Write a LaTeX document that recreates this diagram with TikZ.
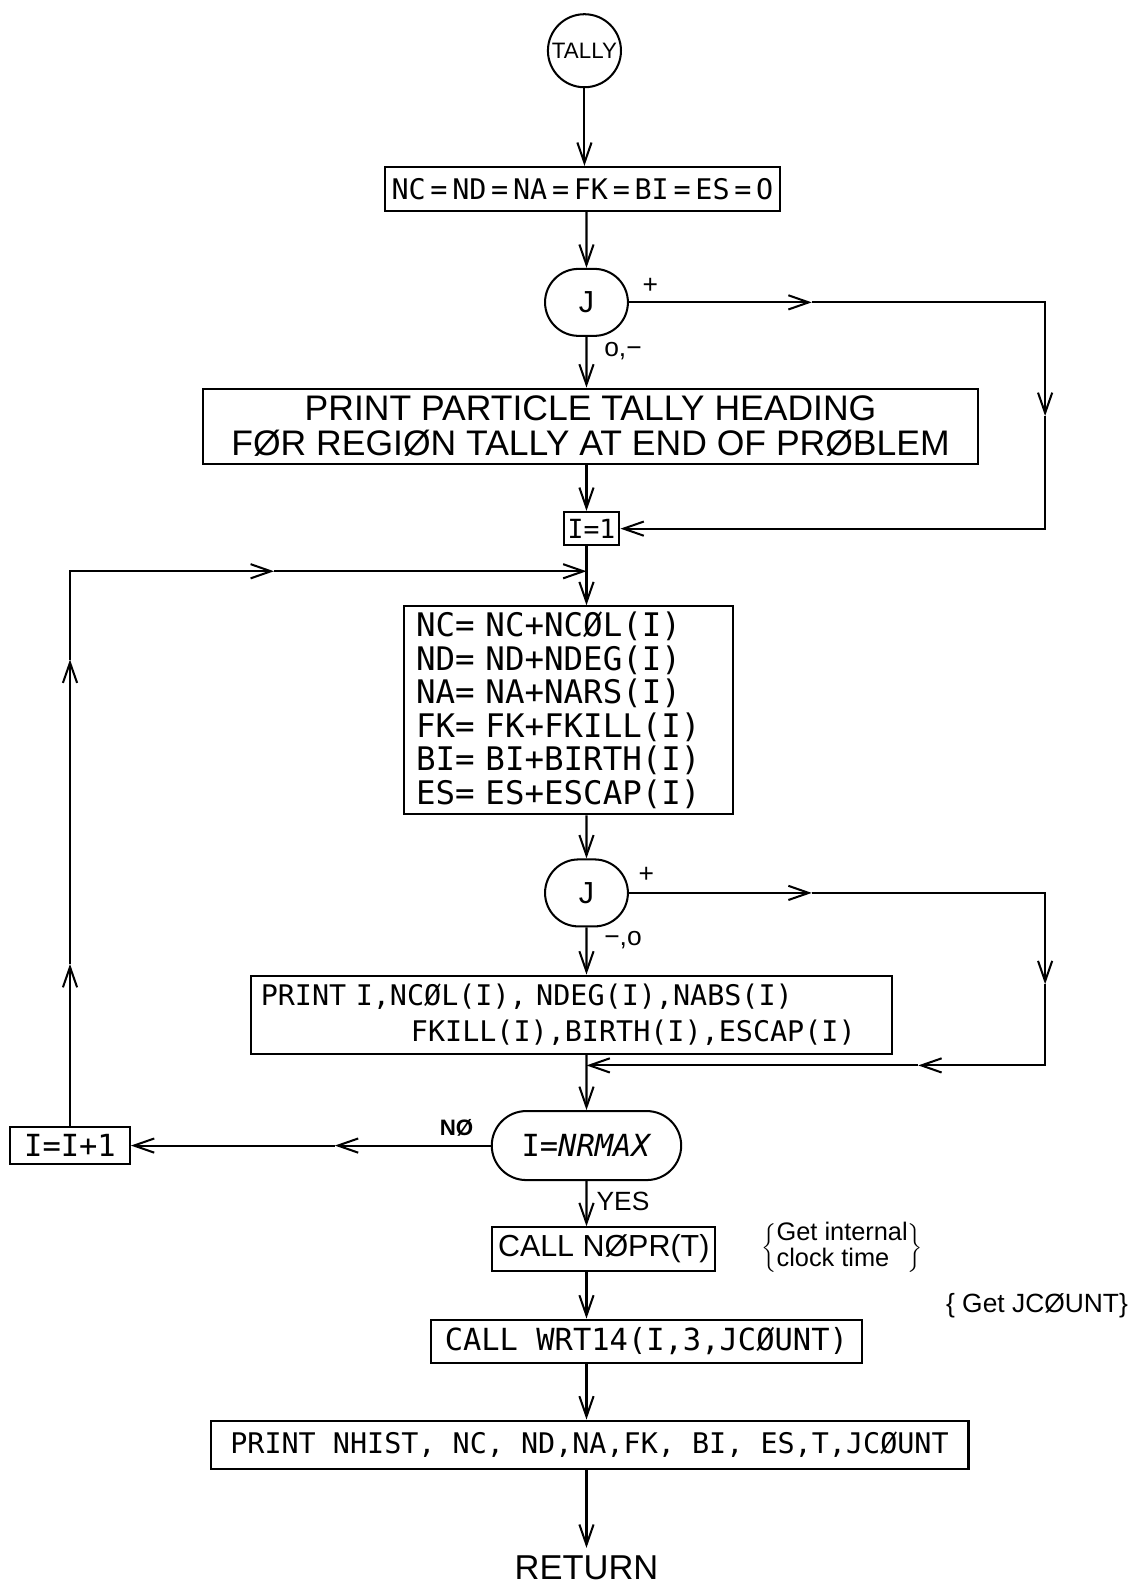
\documentclass[tikz,border=0pt]{standalone}
\usepackage{fontspec}
\setmainfont{Liberation Sans}
\newfontfamily\leroy{DejaVu Sans Mono}
\usetikzlibrary{arrows.meta, positioning, shapes.geometric, shapes.misc, calc}

\begin{document}
\begin{tikzpicture}[x=0.5pt, y=-0.5pt, line width=1pt,
    flow/.style={-{Straight Barb[length=10pt,width=7pt]}},
    box/.style={draw, rectangle, inner sep=0pt},
    term/.style={draw, rounded rectangle, minimum width=47.5pt, minimum height=33pt, font=\fontsize{15}{18}\selectfont},
    lbl/.style={font=\fontsize{13}{15}\selectfont}]
        \useasboundingbox (0,0) rectangle (1118,1568);

        % Đầu chương trình và khởi tạo
        \node[draw, circle, minimum size=36pt, inner sep=0pt, font=\fontsize{11}{13}\selectfont] (tally) at (576,50) {TALLY};
        \node[box, minimum width=195pt, minimum height=21.5pt, font=\leroy\fontsize{14}{16}\selectfont] (init) at (574,186) {NC\,=\,ND\,=\,NA\,=\,FK\,=\,BI\,=\,ES\,=\,O};
        \node[term] (jone) at (578,298) {J};
        \node[box, minimum width=382pt, minimum height=37pt, align=center, font=\fontsize{17.5}{17}\selectfont] (head) at (582,420) {PRINT PARTICLE TALLY HEADING\\FØR REGIØN TALLY AT END OF PRØBLEM};
        \node[box, inner xsep=2pt, inner ysep=3.5pt, font=\leroy\fontsize{13}{15}\selectfont] (ione) at (583,521) {I=1};

        % Vòng lặp theo vùng
        \node[box, text width=150pt, inner xsep=6pt, minimum height=102.5pt, align=left, font=\leroy\fontsize{16}{16.5}\selectfont] (upd) at (560,700) {NC= NC+NCØL(I)\\ND= ND+NDEG(I)\\NA= NA+NARS(I)\\FK= FK+FKILL(I)\\BI= BI+BIRTH(I)\\ES= ES+ESCAP(I)};
        \node[term] (jtwo) at (578,880) {J};
        \node[box, text width=306pt, inner xsep=5pt, minimum height=38.5pt, align=left, font=\leroy\fontsize{14}{17.5}\selectfont] (prt) at (563,1000) {PRINT I,NCØL(I), NDEG(I),NABS(I)\\\hspace*{74pt}FKILL(I),BIRTH(I),ESCAP(I)};
        \node[term, minimum width=100pt, minimum height=34pt, font=\leroy\fontsize{15}{18}\selectfont] (nrmax) at (578,1129) {I=\textit{NRMAX}};
        \node[box, minimum width=59pt, minimum height=18.5pt, font=\leroy\fontsize{15}{18}\selectfont] (incr) at (69,1129) {I=I+1};

        % Phần kết thúc
        \node[box, minimum width=110pt, minimum height=21.5pt, font=\fontsize{15}{18}\selectfont] (nopr) at (595,1231) {CALL NØPR(T)};
        \node[box, minimum width=212.5pt, minimum height=21.5pt, font=\leroy\fontsize{15}{18}\selectfont] (wrt) at (637,1322) {CALL WRT14(I,3,JCØUNT)};
        \node[box, minimum width=373.5pt, minimum height=24pt, font=\leroy\fontsize{14}{16}\selectfont] (hist) at (581,1424) {PRINT NHIST, NC, ND,NA,FK, BI, ES,T,JCØUNT};
        \node[font=\fontsize{17}{20}\selectfont] (ret) at (578,1545) {RETURN};

        % Ghi chú viết tay
        \node[font=\fontsize{12.5}{13}\selectfont] (clock) at (830,1230) {$\left\{\begin{tabular}{@{}l@{}}Get internal\\clock time\end{tabular}\right\}$};
        \node[font=\fontsize{13}{15}\selectfont] (jnote) at (1022,1287) {\{ Get JCØUNT\}};

        % Nhãn nhánh
        \node[lbl] (jplus) at (641,282) {+};
        \node[lbl] (jminus) at (614,346) {o,−};
        \node[lbl] (kplus) at (637,862) {+};
        \node[lbl] (kminus) at (614,926) {−,o};
        \node[lbl, font=\bfseries\fontsize{11}{13}\selectfont] (no) at (450,1112) {NØ};
        \node[lbl] (yes) at (614,1184) {YES};

        % Điểm gấp của các đường vòng
        \coordinate (r1) at (800,298);
        \coordinate (rc1) at (1030,298);
        \coordinate (r2) at (1030,410);
        \coordinate (rc2) at (1030,521);
        \coordinate (r3) at (800,880);
        \coordinate (rc3) at (1030,880);
        \coordinate (r4) at (1030,970);
        \coordinate (rc4) at (1030,1050);
        \coordinate (r5) at (905,1050);
        \coordinate (merge) at (578,1050);
        \coordinate (n1) at (330,1129);
        \coordinate (l1) at (69,950);
        \coordinate (l2) at (69,650);
        \coordinate (lc) at (69,563);
        \coordinate (l3) at (270,563);
        \coordinate (back) at (578,563);

        % Trục chính
        \draw[flow] (tally) -- (tally |- init.north);
        \draw[flow] (init.south -| jone) -- (jone);
        \draw[flow] (jone) -- (jone |- head.north);
        \draw[flow] (head.south -| jone) -- (jone |- ione.north);
        \draw[flow] (jone |- ione.south) -- (jone |- upd.north);
        \draw[flow] (upd.south -| jtwo) -- (jtwo);
        \draw[flow] (jtwo) -- (jtwo |- prt.north);
        \draw[flow] (prt.south -| nrmax) -- (nrmax);
        \draw[flow] (nrmax) -- (nrmax |- nopr.north);
        \draw[flow] (nopr.south -| nrmax) -- (nrmax |- wrt.north);
        \draw[flow] (wrt.south -| nrmax) -- (nrmax |- hist.north);
        \draw[flow] (hist.south -| nrmax) -- (ret);

        % Nhánh + thứ nhất
        \draw[flow] (jone.east) -- (r1);
        \draw[flow] (r1) -- (rc1) -- (r2);
        \draw[flow] (r2) -- (rc2) -- (ione.east);

        % Nhánh + thứ hai
        \draw[flow] (jtwo.east) -- (r3);
        \draw[flow] (r3) -- (rc3) -- (r4);
        \draw[flow] (r4) -- (rc4) -- (r5);
        \draw[flow] (r5) -- (merge);

        % Vòng quay lại I=I+1
        \draw[flow] (nrmax.west) -- (n1);
        \draw[flow] (n1) -- (incr.east);
        \draw[flow] (incr.north) -- (l1);
        \draw[flow] (l1) -- (l2);
        \draw[flow] (l2) -- (lc) -- (l3);
        \draw[flow] (l3) -- (back);
    \end{tikzpicture}
\end{document}
